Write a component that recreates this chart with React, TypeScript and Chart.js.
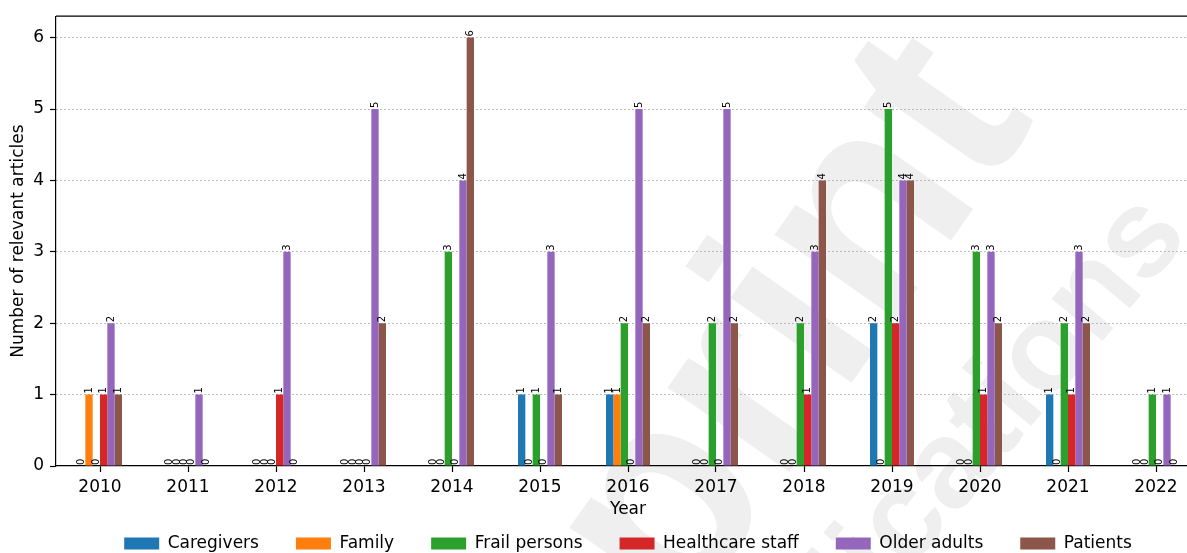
import React, { useEffect, useRef } from "react";
import { Chart, registerables } from "chart.js";

Chart.register(...registerables);

// Publication years on the x axis
const years = ["2010", "2011", "2012", "2013", "2014", "2015", "2016", "2017", "2018", "2019", "2020", "2021", "2022"];

// Number of relevant articles per target group and year
const caregivers = [0, 0, 0, 0, 0, 1, 1, 0, 0, 2, 0, 1, 0];
const family = [1, 0, 0, 0, 0, 0, 1, 0, 0, 0, 0, 0, 0];
const frailPersons = [0, 0, 0, 0, 3, 1, 2, 2, 2, 5, 3, 2, 1];
const healthcareStaff = [1, 0, 1, 0, 0, 0, 0, 0, 1, 2, 1, 1, 0];
const olderAdults = [2, 1, 3, 5, 4, 3, 5, 5, 3, 4, 3, 3, 1];
const patients = [1, 0, 0, 2, 6, 1, 2, 2, 4, 4, 2, 2, 0];

const seriesNames = ["Caregivers", "Family", "Frail persons", "Healthcare staff", "Older adults", "Patients"];
const seriesValues = [caregivers, family, frailPersons, healthcareStaff, olderAdults, patients];
const seriesColors = ["#1f77b4", "#ff7f0e", "#2ca02c", "#d62728", "#9467bd", "#8c564b"];

const yMax = 6.3;
const FONT = '"DejaVu Sans", sans-serif';
const MARK_FONT = '"Liberation Sans", sans-serif';

// Faint diagonal watermark behind the plot
const watermarkPlugin = {
  id: "watermark",
  beforeDraw(chart: any) {
    const ctx = chart.ctx;
    ctx.save();
    ctx.fillStyle = "#efefef";
    ctx.textBaseline = "alphabetic";
    ctx.textAlign = "left";

    ctx.save();
    ctx.font = `bold 280px ${MARK_FONT}`;
    ctx.translate(885, 335);
    ctx.rotate((-55 * Math.PI) / 180);
    ctx.fillText("Preprint", -ctx.measureText("Prepri").width, 0);
    ctx.restore();

    ctx.save();
    ctx.font = `bold 125px ${MARK_FONT}`;
    ctx.translate(954, 518);
    ctx.rotate((-50 * Math.PI) / 180);
    ctx.fillText("Publications", -ctx.measureText("Public").width, 0);
    ctx.restore();

    ctx.restore();
  },
};

// Top and right spines of the axes box
const framePlugin = {
  id: "frame",
  afterDraw(chart: any) {
    const { ctx, chartArea } = chart;
    ctx.save();
    ctx.strokeStyle = "#000";
    ctx.lineWidth = 1.2;
    ctx.beginPath();
    ctx.moveTo(chartArea.left, chartArea.top);
    ctx.lineTo(chartArea.right, chartArea.top);
    ctx.lineTo(chartArea.right, chartArea.bottom);
    ctx.stroke();
    ctx.restore();
  },
};

// Rotated value labels on top of each bar
const barLabelPlugin = {
  id: "barLabels",
  afterDatasetsDraw(chart: any) {
    const ctx = chart.ctx;
    ctx.save();
    ctx.font = `10px ${FONT}`;
    ctx.fillStyle = "#000";
    ctx.textAlign = "left";
    ctx.textBaseline = "middle";
    chart.data.datasets.forEach((ds: any, i: number) => {
      const meta = chart.getDatasetMeta(i);
      meta.data.forEach((bar: any, j: number) => {
        ctx.save();
        ctx.translate(bar.x, bar.y - 1);
        ctx.rotate(-Math.PI / 2);
        ctx.fillText(String(ds.data[j]), 0, 0);
        ctx.restore();
      });
    });
    ctx.restore();
  },
};

export default function App() {
  const canvasRef = useRef<HTMLCanvasElement | null>(null);

  useEffect(() => {
    if (!canvasRef.current) return;
    Chart.defaults.font.family = FONT;
    const chart = new Chart(canvasRef.current, {
      type: "bar",
      data: {
        labels: years,
        datasets: seriesNames.map((name, i) => ({
          label: name,
          data: seriesValues[i],
          backgroundColor: seriesColors[i],
          borderWidth: 0,
          categoryPercentage: 0.5,
          barPercentage: 1.0,
        })),
      },
      options: {
        responsive: false,
        animation: false,
        devicePixelRatio: 1,
        layout: { padding: { top: 12, left: 0, right: 0, bottom: 0 } },
        plugins: {
          legend: {
            position: "bottom",
            fullSize: false,
            labels: {
              boxWidth: 35,
              boxHeight: 12,
              padding: 37,
              color: "#000",
              font: { size: 17, family: FONT },
            },
          },
          tooltip: { enabled: false },
        },
        scales: {
          x: {
            type: "category",
            offset: true,
            grid: {
              offset: false,
              drawOnChartArea: false,
              drawTicks: true,
              tickLength: 6,
              tickColor: "#000",
              tickWidth: 1.2,
            },
            border: { display: true, color: "#000", width: 1.2 },
            ticks: {
              color: "#000",
              font: { size: 17, family: FONT },
              padding: 5,
              maxRotation: 0,
              autoSkip: false,
            },
            title: {
              display: true,
              text: "Year",
              color: "#000",
              font: { size: 17, family: FONT },
              padding: { top: 0, bottom: -22 },
            },
            afterFit(scale: any) {
              scale.height = 32;
            },
          },
          y: {
            type: "linear",
            min: 0,
            max: yMax,
            grid: {
              color: (c: any) => (c.tick && c.tick.value === 0 ? "rgba(0,0,0,0)" : "#a8a8a8"),
              lineWidth: 1,
              drawTicks: true,
              tickLength: 6,
              tickColor: "#000",
              tickWidth: 1.2,
              tickBorderDash: [],
            },
            border: { display: true, color: "#000", width: 1.2, dash: [1.5, 2.5] },
            ticks: {
              stepSize: 1,
              includeBounds: false,
              color: "#000",
              font: { size: 17, family: FONT },
              padding: 6,
            },
            title: {
              display: true,
              text: "Number of relevant articles",
              color: "#000",
              font: { size: 17, family: FONT },
              padding: { top: 8, bottom: 0 },
            },
            afterFit(scale: any) {
              scale.width = 56;
            },
          },
        },
      },
      plugins: [watermarkPlugin, framePlugin, barLabelPlugin],
    } as any);
    return () => chart.destroy();
  }, []);

  return (
    <div
      style={{
        position: "fixed",
        left: 0,
        top: 0,
        width: 1187,
        height: 553,
        overflow: "hidden",
        background: "#fff",
      }}
    >
      <canvas ref={canvasRef} width={1200} height={562} style={{ display: "block", width: 1200, height: 562 }} />
    </div>
  );
}
